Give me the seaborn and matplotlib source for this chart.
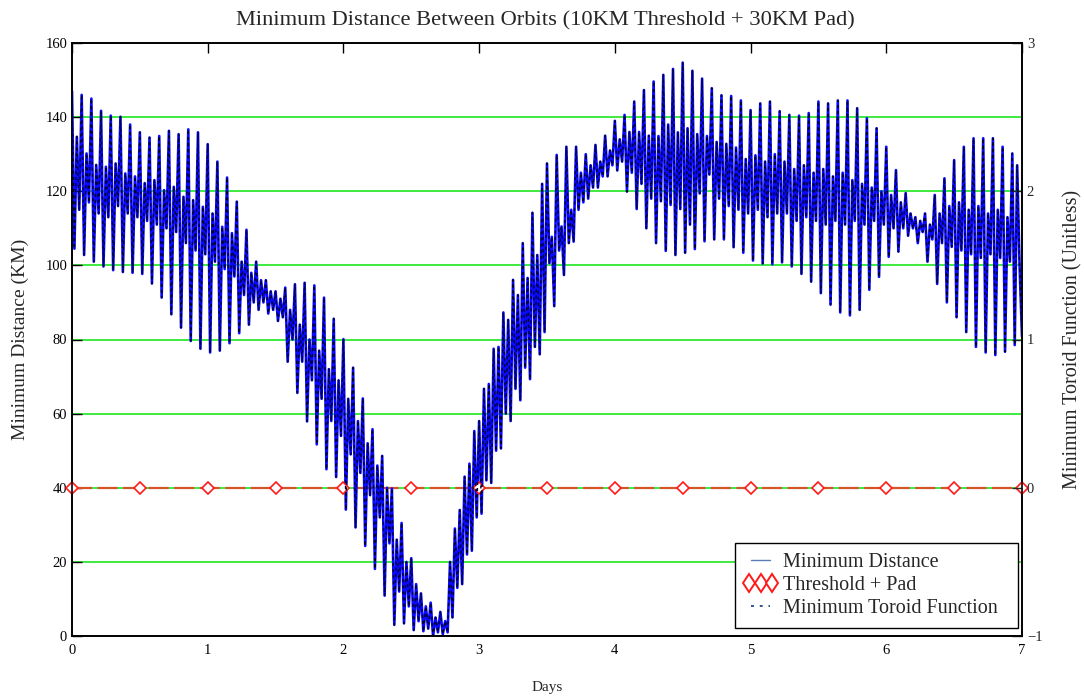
import numpy as np
import pandas as pd
import matplotlib
matplotlib.use("Agg")
import matplotlib.pyplot as plt
import seaborn as sns
from matplotlib.lines import Line2D
from matplotlib.legend_handler import HandlerLine2D

# each orbit cycle: main peak, trough, secondary bump, secondary dip (KM)
peak = [147, 146, 145, 141.7, 140.4, 140.1, 138, 135.9, 134.5, 134.9,
        136.3, 135.4, 136.7, 135.9, 132.7, 128, 123.7, 117.2, 109.6, 101,
        96, 93, 94, 94.9, 95.3, 94.6, 91.3, 85.6, 80.1, 72.4,
        64.1, 55.8, 48.6, 39.8, 30.5, 21, 11.5, 9, 6.5, 20,
        34, 46.5, 58, 68, 78, 85.3, 92, 96.6, 102.8, 127.5,
        129.8, 132, 132, 130, 132.5, 135, 139, 140.6, 144.2, 147.3,
        149.6, 151.4, 153, 154.7, 152.5, 150.4, 147.8, 145.9, 145.7, 144.5,
        141.9, 143.7, 144.2, 141.6, 140.6, 140.4, 141.1, 144.2, 143.7, 144.5,
        144.5, 142.4, 139.7, 137, 132, 125.7, 119.5, 113, 114, 119,
        123.5, 128.4, 132, 134.3, 134.3, 134.3, 132, 130.2]
trough = [104.5, 102.8, 101, 99.7, 98.7, 98.2, 98, 97.7, 95.1, 91.3,
          86.8, 83.2, 79.6, 77.5, 76.5, 77, 79, 81.7, 84, 88,
          87, 85, 74, 65.6, 57.9, 51.7, 45, 42.9, 34.1, 29.3,
          24.3, 18.1, 10.9, 3, 3.4, 1.6, 1.3, 0, 0.5, 5,
          14, 23, 33, 41.3, 50.6, 58, 63.6, 69.3, 76, 100.6,
          104, 106, 115, 118, 121, 124, 125.6, 119.9, 115.2, 110,
          106, 103.9, 102.8, 103.4, 104.4, 106.5, 107, 107, 104.9, 103.4,
          101.3, 100.5, 100.3, 100.8, 99.7, 97.7, 95.6, 92.5, 89.4, 87.3,
          86.5, 88, 93.4, 96.9, 102.3, 103.7, 108, 106, 101, 95,
          90, 86, 82, 78, 76.5, 75.8, 76.7, 78.5]
bump = [134.7, 130.2, 127.1, 126.6, 127.5, 124.8, 124, 122.2, 123, 120.3,
        121.2, 118.5, 117.6, 115.8, 114, 110.4, 108.7, 101, 98, 96,
        93, 91, 88, 84, 80, 77, 72, 69, 64, 58,
        52, 46, 40, 26, 20, 14, 8, 5, 4, 29,
        43, 55.3, 66.7, 77.5, 87.3, 96.1, 106, 114.2, 122, 107.7,
        110.5, 115, 125, 127, 128, 131, 134, 136, 136, 135,
        134.9, 138, 135.9, 137, 135.4, 134.9, 133.3, 132.8, 131.8, 128.7,
        129.7, 128, 130, 128, 126, 127, 125, 126, 124, 125,
        123, 122, 121, 120, 119, 117, 114, 112, 111, 114,
        116, 117, 115, 116, 114, 115, 113, 127]
dip = [115, 117, 114, 113, 116, 114, 113, 112, 111, 110,
       109, 106, 104, 103, 101, 99, 97, 92, 90, 90,
       88, 86, 80, 74, 69, 64, 58, 54, 49, 44,
       38, 32, 25, 12, 8, 4, 2, 1, 1, 13,
       22, 32, 42, 50, 60, 66.7, 72.4, 78, 82, 89,
       97.4, 106.4, 117, 121, 124, 127, 128, 125, 122, 118,
       117.3, 116.3, 115.2, 111, 119.4, 124.5, 118, 116, 115, 114,
       115, 113, 114, 114, 112, 113, 112, 111, 112, 111,
       112, 111, 112, 111, 110, 110, 110, 109, 107, 106,
       105, 104, 103, 102, 103, 102, 101, 100]
end_value = 80.8

pad_days = [0.0, 0.5, 1.0, 1.5, 2.0, 2.5, 3.0, 3.5, 4.0, 4.5, 5.0, 5.5, 6.0, 6.5, 7.0]
pad_km = [40, 40, 40, 40, 40, 40, 40, 40, 40, 40, 40, 40, 40, 40, 40]

x_ticks = [0, 1, 2, 3, 4, 5, 6, 7]
y_ticks = [0, 20, 40, 60, 80, 100, 120, 140, 160]
r_ticks = [-1, 0, 1, 2, 3]
r_labels = ["\u22121", "0", "1", "2", "3"]

# lay the cycles out on an even time grid over 7 days
n = len(peak)
step = 7 / n
days, dist = [], []
for i in range(n):
    for k, v in enumerate((peak[i], trough[i], bump[i], dip[i])):
        days.append((i + k / 4) * step)
        dist.append(v)
days.append(7.0)
dist.append(end_value)

df = pd.DataFrame({"days": days, "dist": dist})
df["toroid"] = (df["dist"] - 40) / 40

sns.set_style("white")
plt.rcParams["font.family"] = ["Liberation Serif", "DejaVu Serif"]

fig = plt.figure(figsize=(10.84, 7), dpi=100)
ax = fig.add_axes([0.0664, 0.0914, 0.8764, 0.8472])

ax.set_axisbelow(True)
ax.yaxis.grid(True, color="#1ee61e", lw=1.2)
ax.xaxis.grid(False)

ax.plot(pad_days, pad_km, color="#d6542a", lw=1.6, linestyle=(0, (9, 2.5)), zorder=2)
sns.lineplot(data=df, x="days", y="dist", ax=ax, color="#0a0aff", lw=1.9,
             estimator=None, sort=False, zorder=3)
ax.plot(pad_days, pad_km, ls="none", marker="D", ms=6.5, mfc="white", mec="#ff1a1a",
        mew=1.2, zorder=4, clip_on=False)

ax.set_xlim(0, 7)
ax.set_ylim(0, 160)
ax.set_xticks(x_ticks)
ax.set_yticks(y_ticks)
ax.tick_params(axis="both", direction="in", length=7, width=1, labelsize=10.5,
               top=True, colors="black")
ax.tick_params(axis="x", pad=6)
ax.set_xlabel("Days", fontsize=11, labelpad=17)
ax.set_ylabel("Minimum Distance (KM)", fontsize=14, labelpad=12)
fig.text(0.5028, 1 - 21 / 700, "Minimum Distance Between Orbits (10KM Threshold + 30KM Pad)",
         fontsize=16.2, ha="center", va="center")

ax2 = ax.twinx()
sns.lineplot(data=df, x="days", y="toroid", ax=ax2, color="#000030", lw=1.0,
             linestyle=(0, (2.2, 2.2)), estimator=None, sort=False)
ax2.set_ylim(-1, 3)
ax2.set_yticks(r_ticks)
ax2.set_yticklabels(r_labels)
ax2.tick_params(axis="y", direction="in", length=7, width=1, labelsize=10.5)
ax2.set_ylabel("Minimum Toroid Function (Unitless)", fontsize=14.5, labelpad=15)
ax2.set_xlabel("")

for a in (ax, ax2):
    for s in a.spines.values():
        s.set_color("black")
        s.set_linewidth(1.2)

h_dist = Line2D([], [], color="#5b7db5", lw=1)
h_pad = Line2D([], [], ls="none", marker="d", ms=9.5, mfc="white", mec="#ff1a1a", mew=1.4)
h_tor = Line2D([], [], color="#2d5294", lw=1.4, linestyle=(0, (1.5, 3)))
labels = ["Minimum Distance\u2002", "Threshold + Pad\u2002", "Minimum Toroid Function\u2002"]
leg = ax2.legend([h_dist, h_pad, h_tor], labels, loc="lower right",
                 bbox_to_anchor=(0.996, 0.0135), borderaxespad=0, numpoints=3,
                 fontsize=14.5, frameon=True, fancybox=False, edgecolor="black",
                 framealpha=1, handlelength=1.55, handletextpad=0.35,
                 labelspacing=0.2, borderpad=0.5,
                 handler_map={h_pad: HandlerLine2D(numpoints=3, marker_pad=0.22)})
leg.get_frame().set_linewidth(1)

fig.savefig("out.png", dpi=100)
